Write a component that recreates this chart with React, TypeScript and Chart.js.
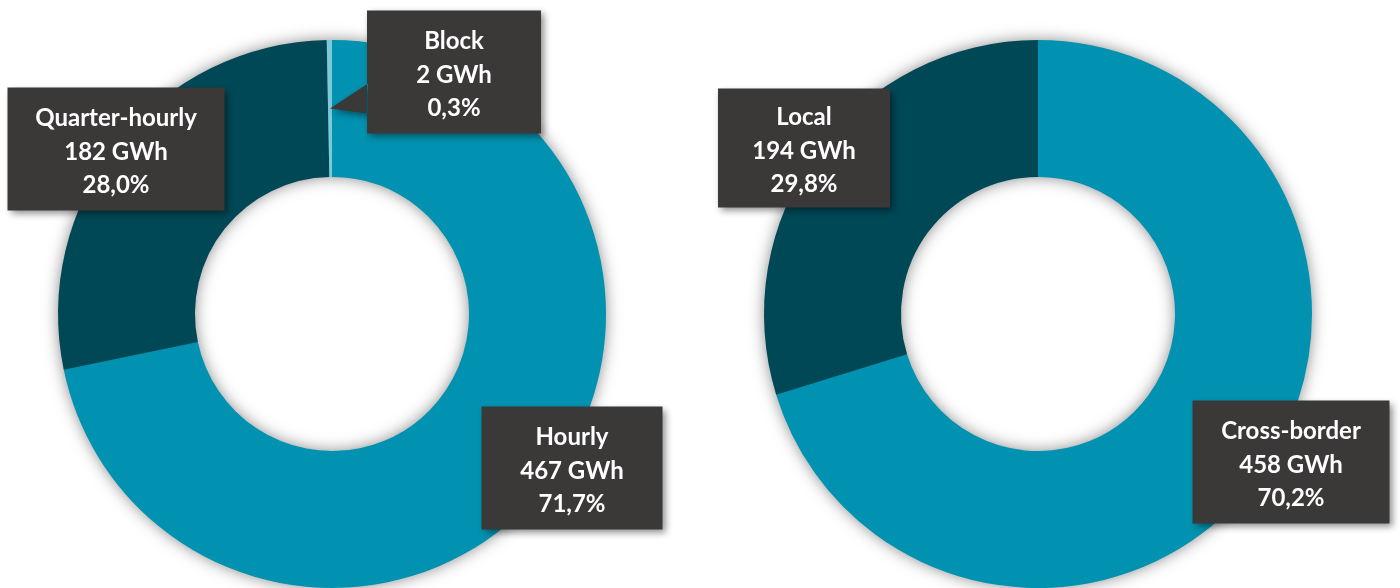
import React, { useEffect, useRef } from 'react';
import { Chart, registerables } from 'chart.js';

Chart.register(...registerables);

// ---- Data ----
const leftCategories = ['Hourly', 'Quarter-hourly', 'Block'];
const leftValuesGWh = [467, 182, 2];
const leftShares = ['71,7%', '28,0%', '0,3%'];

const rightCategories = ['Cross-border', 'Local'];
const rightValuesGWh = [458, 194];
const rightShares = ['70,2%', '29,8%'];

// ---- Styles ----
const TEAL = '#0092b0';
const DARK = '#014857';
const LIGHT = '#7ec8d8';
const BOX = '#3b3838';
const FONT = 'bold 24px Lato, "Open Sans", sans-serif';

type BoxSpec = { dx: number; dy: number; w: number; h: number; pointer?: [number, number] };

const leftBoxes: BoxSpec[] = [
  { dx: 240, dy: 154, w: 181, h: 123 },
  { dx: -216, dy: -165, w: 217, h: 123 },
  { dx: 122, dy: -242, w: 174, h: 123, pointer: [73, 103] },
];
const rightBoxes: BoxSpec[] = [
  { dx: 253, dy: 148, w: 197, h: 123 },
  { dx: -234, dy: -166, w: 172, h: 119 },
];

function makePlugins(categories: string[], values: number[], shares: string[], boxes: BoxSpec[]) {
  const ringShadow = {
    id: 'ringShadow',
    beforeDatasetsDraw(chart: any) {
      const arc = chart.getDatasetMeta(0).data[0];
      if (!arc) return;
      const { x, y, outerRadius, innerRadius } = arc.getProps(['x', 'y', 'outerRadius', 'innerRadius'], true);
      const ctx = chart.ctx;
      ctx.save();
      ctx.shadowColor = 'rgba(0,0,0,0.5)';
      ctx.shadowBlur = 16;
      ctx.shadowOffsetX = 0;
      ctx.shadowOffsetY = 0;
      ctx.fillStyle = TEAL;
      ctx.beginPath();
      ctx.arc(x, y, outerRadius - 1, 0, Math.PI * 2);
      ctx.arc(x, y, innerRadius + 1, 0, Math.PI * 2, true);
      ctx.fill('evenodd');
      ctx.restore();
    },
  };
  const labels = {
    id: 'boxLabels',
    afterDraw(chart: any) {
      const meta = chart.getDatasetMeta(0);
      const arc0 = meta.data[0];
      if (!arc0) return;
      const cx = arc0.x;
      const cy = arc0.y;
      const ctx = chart.ctx;
      boxes.forEach((b, i) => {
        const bx = cx + b.dx - b.w / 2;
        const by = cy + b.dy - b.h / 2;
        ctx.save();
        ctx.shadowColor = 'rgba(0,0,0,0.45)';
        ctx.shadowBlur = 7;
        ctx.shadowOffsetX = 3;
        ctx.shadowOffsetY = 3;
        ctx.fillStyle = BOX;
        ctx.beginPath();
        ctx.rect(bx, by, b.w, b.h);
        if (b.pointer) {
          const tp = meta.data[i].tooltipPosition(true);
          ctx.moveTo(bx + 1, by + b.pointer[0]);
          ctx.lineTo(tp.x, tp.y);
          ctx.lineTo(bx + 1, by + b.pointer[1]);
          ctx.closePath();
        }
        ctx.fill();
        ctx.restore();

        ctx.save();
        ctx.fillStyle = '#ffffff';
        ctx.font = FONT;
        ctx.textAlign = 'center';
        ctx.textBaseline = 'middle';
        const tx = cx + b.dx;
        const ty = cy + b.dy;
        const lines = [categories[i], `${values[i]} GWh`, shares[i]];
        const offs = [-31, 3, 36];
        lines.forEach((t, k) => ctx.fillText(t, tx, ty + offs[k]));
        ctx.restore();
      });
    },
  };
  return [ringShadow, labels];
}

function Donut(props: {
  categories: string[];
  values: number[];
  shares: string[];
  colors: string[];
  boxes: BoxSpec[];
  padding: { left: number; right: number; top: number; bottom: number };
  left: number;
}) {
  const ref = useRef<HTMLCanvasElement | null>(null);
  useEffect(() => {
    if (!ref.current) return;
    const chart = new Chart(ref.current, {
      type: 'doughnut',
      data: {
        labels: props.categories,
        datasets: [
          {
            data: props.values,
            backgroundColor: props.colors,
            borderWidth: 0,
            hoverBorderWidth: 0,
            hoverOffset: 0,
            offset: 0,
          } as any,
        ],
      },
      options: {
        responsive: false,
        animation: false,
        events: [],
        cutout: '50%',
        layout: { padding: props.padding },
        plugins: { legend: { display: false }, tooltip: { enabled: false } },
      },
      plugins: makePlugins(props.categories, props.values, props.shares, props.boxes) as any,
    });
    return () => chart.destroy();
  }, []);
  return (
    <canvas
      ref={ref}
      width={700}
      height={588}
      style={{ position: 'absolute', left: props.left, top: 0, width: 700, height: 588 }}
    />
  );
}

export default function App() {
  return (
    <div
      style={{
        position: 'fixed',
        left: 0,
        top: 0,
        width: 1400,
        height: 588,
        overflow: 'hidden',
        background: '#ffffff',
      }}
    >
      <Donut
        categories={leftCategories}
        values={leftValuesGWh}
        shares={leftShares}
        colors={[TEAL, DARK, LIGHT]}
        boxes={leftBoxes}
        padding={{ left: 58, right: 94, top: 40, bottom: 0 }}
        left={0}
      />
      <Donut
        categories={rightCategories}
        values={rightValuesGWh}
        shares={rightShares}
        colors={[TEAL, DARK]}
        boxes={rightBoxes}
        padding={{ left: 64, right: 88, top: 40, bottom: 0 }}
        left={700}
      />
    </div>
  );
}
